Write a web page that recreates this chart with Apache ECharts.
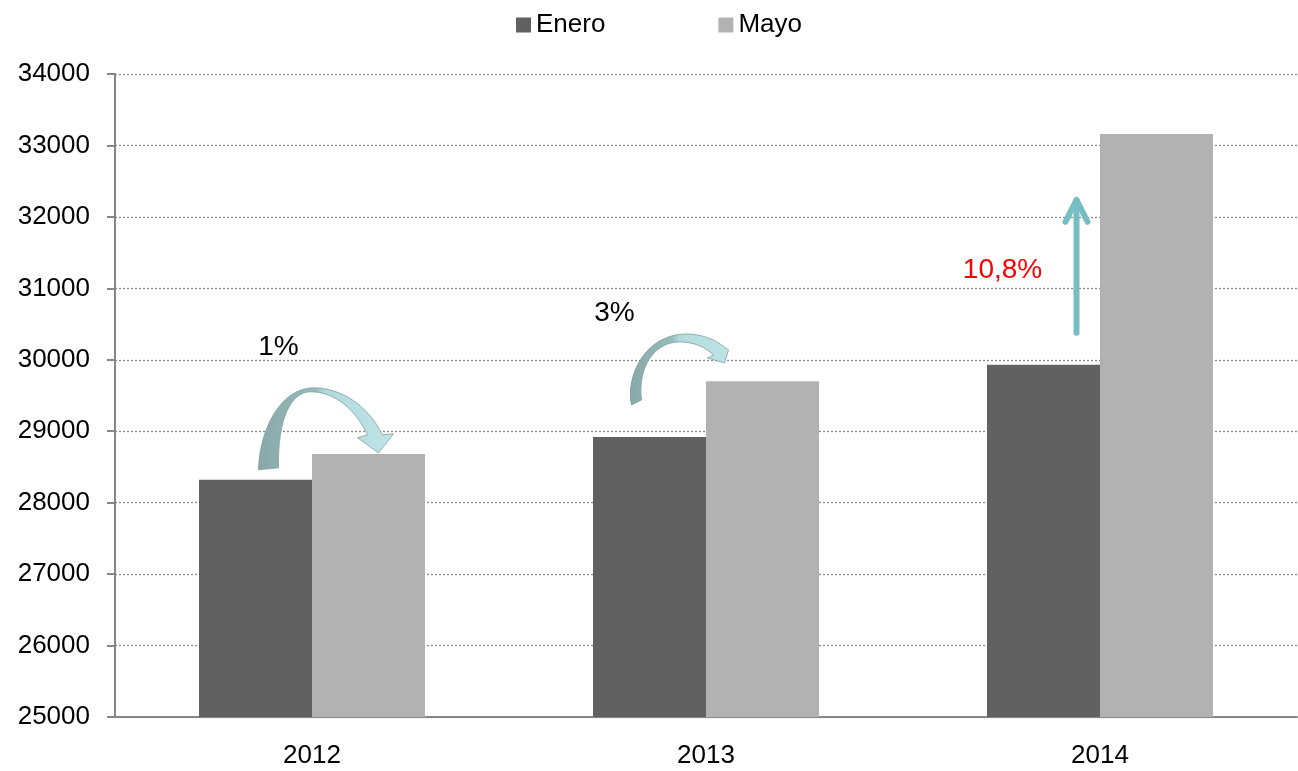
<!DOCTYPE html>
<html>
<head>
<meta charset="utf-8">
<script src="https://cdn.jsdelivr.net/npm/echarts@6/dist/echarts.min.js"></script>
<style>html,body{margin:0;padding:0;background:#fff}#c{width:1298px;height:771px}</style>
</head>
<body>
<div id="c"></div>
<script>
const categories = ['2012', '2013', '2014'];
const eneroValues = [28320, 28920, 29930];
const mayoValues = [28680, 29700, 33160];
const seriesNames = ['Enero', 'Mayo'];
const changeLabels = ['1%', '3%', '10,8%'];

const FONT = '"Liberation Sans", Arial, sans-serif';
const grad = {
  type: 'linear', x: 0, y: 0, x2: 1, y2: 0, global: false,
  colorStops: [
    { offset: 0, color: '#88a8a9' },
    { offset: 0.42, color: '#9abbbd' },
    { offset: 0.5, color: '#b2dadd' },
    { offset: 1, color: '#bfe4e7' }
  ]
};
const txt = (t, color, x, y) => ({
  type: 'text', x: x, y: y,
  style: { text: t, fill: color, font: '28px ' + FONT, textAlign: 'center', textVerticalAlign: 'middle' }
});
const arrowPaths = [
  'M3,-10 C4,-50 25,-92 58,-92 C85,-92 112,-75 127,-45 L138,-46 L123,-27 L102,-42 L112,-45 C100,-70 80,-88 55,-88 C35,-88 22,-60 23,-12 Z',
  'M-18,-32 C-24,-60 -5,-103 37,-103 C52,-103 66,-97 72,-92 L79,-87 L75,-74 L58,-79 L64,-82 C55,-90 45,-95 30,-95 C5,-95 -12,-70 -8,-37 Z'
];

function renderAnnot(params, api) {
  const i = params.dataIndex;
  const p = api.coord([api.value(0), api.value(1)]);
  const ox = p[0] - 56.5, oy = p[1];
  let children;
  if (i === 0) {
    children = [
      { type: 'path', shape: { pathData: arrowPaths[0] }, style: { fill: grad, stroke: '#7d9fa1', lineWidth: 0.8 } },
      txt(changeLabels[0], '#000', 23, -133)
    ];
  } else if (i === 1) {
    children = [
      { type: 'path', shape: { pathData: arrowPaths[1] }, style: { fill: grad, stroke: '#7d9fa1', lineWidth: 0.8 } },
      txt(changeLabels[1], '#000', -35, -124)
    ];
  } else {
    children = [
      { type: 'polyline', shape: { points: [[33, -32], [33, -164]] }, style: { stroke: '#76bec4', lineWidth: 6, lineCap: 'round', fill: null } },
      { type: 'polyline', shape: { points: [[22, -143], [33, -165], [44, -143]] }, style: { stroke: '#76bec4', lineWidth: 6, lineCap: 'round', lineJoin: 'round', fill: null } },
      txt(changeLabels[2], '#ff0000', -41, -94)
    ];
  }
  return { type: 'group', x: ox, y: oy, children: children };
}

const chart = echarts.init(document.getElementById('c'));
chart.setOption({
  animation: false,
  textStyle: { fontFamily: FONT },
  legend: {
    data: seriesNames,
    left: 511, top: 7,
    itemWidth: 15, itemHeight: 15, itemGap: 113,
    icon: 'rect',
    textStyle: { fontSize: 26, color: '#000', fontFamily: FONT }
  },
  grid: { left: 115, right: 1, top: 74, bottom: 54 },
  xAxis: {
    type: 'category',
    data: categories,
    axisLine: { lineStyle: { color: '#868686', width: 2 } },
    axisTick: { length: 7, lineStyle: { color: '#868686', width: 2 } },
    axisLabel: { fontSize: 26, color: '#000', margin: 26, fontFamily: FONT }
  },
  yAxis: {
    type: 'value',
    min: 25000, max: 34000, interval: 1000,
    axisLine: { show: true, lineStyle: { color: '#868686', width: 2 } },
    axisTick: { show: true, length: 8, lineStyle: { color: '#868686', width: 2 } },
    axisLabel: { fontSize: 26, color: '#000', margin: 25, fontFamily: FONT, formatter: v => String(v) },
    splitLine: { lineStyle: { color: '#888', type: [2, 2], width: 1.3 } }
  },
  series: [
    { name: seriesNames[0], type: 'bar', data: eneroValues, barWidth: 113, barGap: '0%', itemStyle: { color: '#616161' } },
    { name: seriesNames[1], type: 'bar', data: mayoValues, barWidth: 113, barGap: '0%', itemStyle: { color: '#b2b2b2' } },
    {
      name: 'annot', type: 'custom', clip: false, z: 10, silent: true,
      data: categories.map((c, i) => [i, eneroValues[i]]),
      renderItem: renderAnnot
    }
  ]
});
</script>
</body>
</html>
